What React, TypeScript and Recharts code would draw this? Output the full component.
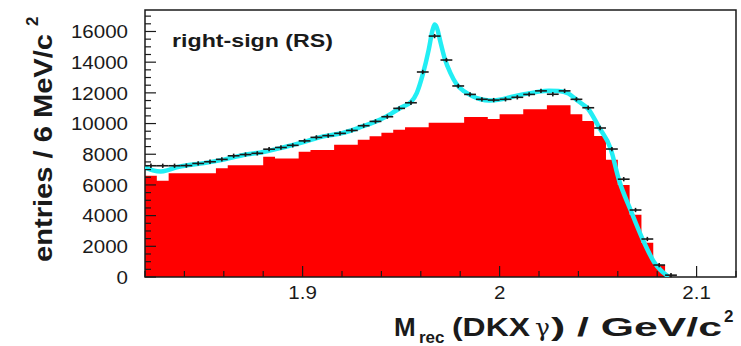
import { ComposedChart, Area, Line, Scatter, ErrorBar, XAxis, YAxis, ReferenceArea } from "recharts";

// 6 MeV bins starting at 1.82 GeV
const BIN_LO = 1.82;
const BIN_W = 0.006;
const X_MIN = 1.82;
const X_MAX = 2.12;
const Y_MAX = 17400;

// background component, entries per bin (red)
const background = [
  6600, 6275, 6755, 6755, 6755, 6755, 7080, 7280, 7280, 7280,
  7840, 7730, 7730, 8160, 8275, 8275, 8620, 8620, 8950, 9170,
  9400, 9590, 9760, 9760, 10060, 10060, 10060, 10420, 10420, 10290,
  10610, 10610, 10930, 10930, 11190, 11190, 10600, 10170, 9190, 7640,
  5990, 4060, 2230, 780, 0, 0, 0, 0, 0, 0,
];

// measured entries per bin (black points)
const entries = [
  7250, 7250, 7250, 7260, 7400, 7510, 7665, 7900, 7980, 8060,
  8330, 8440, 8580, 8870, 9100, 9210, 9360, 9550, 9860, 10140,
  10445, 10990, 11355, 13360, 15700, 14140, 12450, 11900, 11580, 11530,
  11580, 11710, 11900, 12130, 11910, 12130, 11580, 11030, 9710, 8340,
  6375, 4365, 2475, 780, 120,
];
const ENTRY_ERR = 140;

// total fit (cyan)
const fitMass = [
  1.82, 1.824, 1.828, 1.832, 1.836, 1.84, 1.85, 1.86, 1.87, 1.88,
  1.89, 1.9, 1.91, 1.92, 1.93, 1.94, 1.945, 1.95, 1.955, 1.958,
  1.961, 1.964, 1.966, 1.967, 1.968, 1.97, 1.972, 1.975, 1.978, 1.982,
  1.986, 1.99, 1.995, 2.0, 2.005, 2.01, 2.015, 2.02, 2.025, 2.03,
  2.035, 2.04, 2.045, 2.0505, 2.0564, 2.0606, 2.0665, 2.0724, 2.0783, 2.0817,
  2.085,
];
const fitValue = [
  7150, 6950, 6870, 6980, 7150, 7250, 7420, 7650, 7950, 8150,
  8440, 8770, 9150, 9380, 9800, 10300, 10650, 11050, 11400, 12000,
  13200, 14800, 16100, 16450, 16300, 15300, 14300, 13300, 12600, 12100,
  11800, 11600, 11500, 11560, 11700, 11850, 11970, 12080, 12130, 12120,
  11950, 11450, 10950, 9750, 8350, 6320, 4365, 2520, 1000, 450,
  100,
];

const yMajor = [0, 2000, 4000, 6000, 8000, 10000, 12000, 14000, 16000];
const yTicks = Array.from({ length: 35 }, (_, i) => i * 500);
const xLabels: Record<number, string> = { 190: "1.9", 200: "2", 210: "2.1" };
const xTicks = Array.from({ length: 16 }, (_, i) => Math.round((X_MIN + i * 0.02) * 100) / 100);

const histData = [
  ...background.map((v, i) => ({ x: BIN_LO + i * BIN_W, y: v })),
  { x: X_MAX, y: background[background.length - 1] },
];
const pointData = entries.map((v, i) => ({
  x: BIN_LO + (i + 0.5) * BIN_W,
  y: v,
  xErr: BIN_W / 2,
  yErr: ENTRY_ERR,
}));
const fitData = fitMass.map((m, i) => ({ x: m, y: fitValue[i] }));

const FONT = "'Liberation Sans', Arial, Helvetica, sans-serif";
const INK = "#1a1a1a";

function YTick(props: any) {
  const { x, y, payload } = props;
  const major = yMajor.includes(payload.value);
  return (
    <g>
      <line x1={x} y1={y} x2={x + (major ? 11 : 6)} y2={y} stroke={INK} strokeWidth={1.2} />
      {major && (
        <text
          transform={`translate(${x - 17}, ${y}) scale(1.11, 1)`}
          textAnchor="end"
          dy="0.36em"
          fontFamily={FONT}
          fontSize={18.5}
          fill={INK}
        >
          {payload.value}
        </text>
      )}
    </g>
  );
}

function XTick(props: any) {
  const { x, y, payload } = props;
  const label = xLabels[Math.round(payload.value * 100)];
  return (
    <g>
      <line x1={x} y1={y} x2={x} y2={y - (label ? 11 : 6)} stroke={INK} strokeWidth={1.2} />
      {label && (
        <text
          transform={`translate(${x}, ${y + 22}) scale(1.11, 1)`}
          textAnchor="middle"
          fontFamily={FONT}
          fontSize={18.5}
          fill={INK}
        >
          {label}
        </text>
      )}
    </g>
  );
}

function Captions() {
  return (
    <g fontFamily={FONT} fontWeight="bold" fill={INK}>
      <text x={172} y={47} fontSize={18.5} textLength={161} lengthAdjust="spacingAndGlyphs">
        right-sign (RS)
      </text>
      <text
        transform="translate(52, 262) rotate(-90)"
        fontSize={25}
        textLength={228}
        lengthAdjust="spacingAndGlyphs"
      >
        entries / 6 MeV/c
      </text>
      <text transform="translate(38, 26) rotate(-90)" fontSize={17}>2</text>
      <text x={394} y={336} fontSize={26}>M</text>
      <text x={419} y={343} fontSize={17}>rec</text>
      <text x={452} y={336} fontSize={26} textLength={78} lengthAdjust="spacingAndGlyphs">(DKX</text>
      <text x={535} y={336} fontSize={25} fontWeight="normal" fontFamily="'DejaVu Serif', serif">γ</text>
      <text x={551} y={336} fontSize={26} textLength={171} lengthAdjust="spacingAndGlyphs">) / GeV/c</text>
      <text x={724} y={322} fontSize={17}>2</text>
    </g>
  );
}

export default function App() {
  return (
    <div style={{ position: "absolute", left: 0, top: 0, width: 741, height: 346, background: "#fff" }}>
      <ComposedChart width={741} height={346} margin={{ top: 10, right: 5, bottom: 68, left: 144 }}>
        <XAxis
          type="number"
          dataKey="x"
          domain={[X_MIN, X_MAX]}
          allowDataOverflow
          ticks={xTicks}
          interval={0}
          height={1}
          tickSize={0}
          tickMargin={0}
          axisLine={false}
          tickLine={false}
          tick={(p: any) => <XTick {...p} />}
        />
        <YAxis
          type="number"
          dataKey="y"
          domain={[0, Y_MAX]}
          allowDataOverflow
          ticks={yTicks}
          interval={0}
          width={1}
          tickSize={0}
          tickMargin={0}
          axisLine={false}
          tickLine={false}
          tick={(p: any) => <YTick {...p} />}
        />
        <Area
          data={histData}
          dataKey="y"
          type="stepAfter"
          fill="#ff0000"
          fillOpacity={1}
          stroke="none"
          isAnimationActive={false}
        />
        <Line
          data={fitData}
          dataKey="y"
          type="monotone"
          stroke="#22eef4"
          strokeWidth={4.5}
          strokeLinecap="round"
          dot={false}
          isAnimationActive={false}
        />
        <Scatter
          data={pointData}
          dataKey="y"
          fill={INK}
          shape={(p: any) => <circle cx={p.cx} cy={p.cy} r={1} fill={INK} />}
          isAnimationActive={false}
        >
          <ErrorBar dataKey="xErr" direction="x" width={0} stroke={INK} strokeWidth={1.6} />
          <ErrorBar dataKey="yErr" direction="y" width={0} stroke={INK} strokeWidth={1.6} />
        </Scatter>
        <ReferenceArea x1={X_MIN} x2={X_MAX} y1={0} y2={Y_MAX} fill="none" stroke={INK} strokeWidth={1.5} />
      </ComposedChart>
      <svg width={741} height={346} style={{ position: "absolute", left: 0, top: 0, pointerEvents: "none" }}>
        <Captions />
      </svg>
    </div>
  );
}
